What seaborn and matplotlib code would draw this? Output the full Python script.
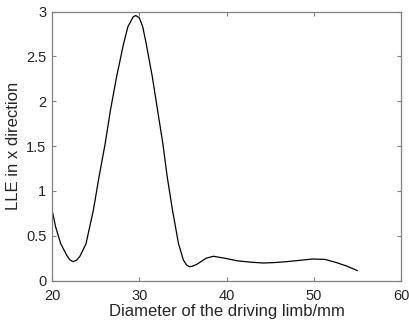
import matplotlib
matplotlib.use("Agg")
import matplotlib.pyplot as plt
import seaborn as sns
import pandas as pd

diameter = [20.0, 20.41, 21.0, 21.7, 22.05, 22.4, 22.8, 23.2, 23.9, 24.75, 25.4, 26.1, 26.7, 27.4,
            28.2, 28.7, 29.3, 29.6, 30.0, 30.4, 30.8, 31.5, 32.1, 32.7, 33.2, 33.8,
            34.5, 35.05, 35.4, 35.75, 36.1, 36.6, 37.7, 38.5, 40.0, 41.2, 42.7, 44.2, 45.5,
            46.9, 48.4, 49.9, 51.3, 52.6, 53.8, 55.0]
lle_x = [0.79, 0.60, 0.41, 0.28, 0.23, 0.21, 0.225, 0.27, 0.41, 0.79, 1.16, 1.53, 1.90, 2.27,
         2.64, 2.83, 2.94, 2.955, 2.93, 2.83, 2.64, 2.27, 1.90, 1.53, 1.16, 0.79,
         0.41, 0.23, 0.175, 0.154, 0.16, 0.18, 0.25, 0.27, 0.245, 0.22, 0.205, 0.195, 0.20,
         0.21, 0.225, 0.24, 0.235, 0.20, 0.16, 0.11]

x_ticks = [20, 30, 40, 50, 60]
y_ticks = [0, 0.5, 1, 1.5, 2, 2.5, 3]
y_tick_labels = ["0", "0.5", "1", "1.5", "2", "2.5", "3"]

sns.set_theme(style="white")
plt.rcParams["font.family"] = ["Liberation Sans", "DejaVu Sans"]

df = pd.DataFrame({"d": diameter, "lle": lle_x})

fig = plt.figure(figsize=(4.09, 3.27), dpi=100)
ax = fig.add_axes([52 / 409, 1 - 280.5 / 327, 349 / 409, 269 / 327])
sns.lineplot(data=df, x="d", y="lle", ax=ax, color="black", linewidth=0.9)

ax.set_xlim(20, 60)
ax.set_ylim(0, 3)
ax.set_xticks(x_ticks)
ax.set_yticks(y_ticks)
ax.set_yticklabels(y_tick_labels)
ax.set_xlabel("Diameter of the driving limb/mm", fontsize=12, color="#262626", labelpad=1)
ax.set_ylabel("LLE in x direction", fontsize=12, color="#262626", labelpad=4)
ax.tick_params(direction="in", length=3, width=0.8, colors="#808080",
               labelcolor="#262626", labelsize=10.5, top=True, right=True,
               bottom=True, left=True, labeltop=False, labelright=False)
ax.tick_params(axis="x", pad=6)
ax.tick_params(axis="y", pad=4)
for s in ax.spines.values():
    s.set_visible(True)
    s.set_color("#808080")
    s.set_linewidth(0.9)

fig.savefig("out.png", dpi=100)
